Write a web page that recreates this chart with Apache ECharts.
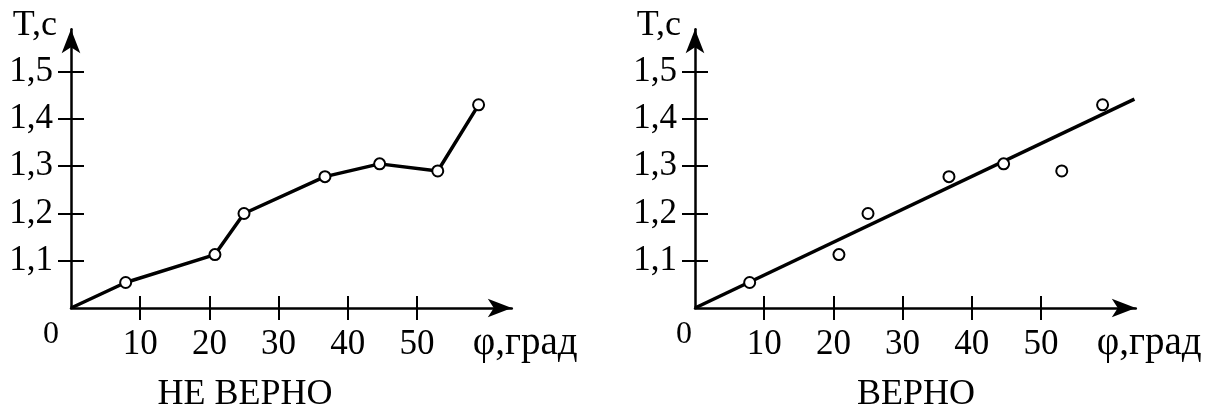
<!DOCTYPE html>
<html>
<head>
<meta charset="utf-8">
<script src="https://cdn.jsdelivr.net/npm/echarts@6/dist/echarts.min.js"></script>
<style>
	html, body {margin: 0; padding: 0; background: #fff;}
	#chart {width: 1206px; height: 410px;}
</style>
</head>
<body>
<div id="chart"></div>
<script>
	// измерения: угол (град) и период (с)
	const phi = [7.9, 20.8, 25.0, 36.7, 44.6, 53.0, 58.9];
	const period = [1.054, 1.113, 1.2, 1.278, 1.305, 1.29, 1.43];
	const start = [0, 1.0];
	// прямая для правого графика
	const fitLine = [[0, 1.0], [63.5, 1.442]];
	const xTicks = [10, 20, 30, 40, 50];
	const yTicks = [1.1, 1.2, 1.3, 1.4, 1.5];
	const titles = ['НЕ ВЕРНО', 'ВЕРНО'];

	const font = 'Liberation Serif';
	const points = phi.map((p, i) => [p, period[i]]);

	const grids = [
		{left: 71, top: 29.2, width: 440.8, height: 278.8},
		{left: 695, top: 29.2, width: 440.8, height: 278.8}
	];

	const makeX = (gi, main) => ({
		type: 'value',
		gridIndex: gi,
		position: 'bottom',
		min: 0,
		max: 63.7,
		axisLine: {
			show: main,
			onZero: false,
			symbol: ['none', 'arrow'],
			symbolSize: [14, 24],
			lineStyle: {color: '#000', width: 2.5}
		},
		axisTick: {
			show: true,
			inside: !main,
			length: 12,
			customValues: xTicks,
			lineStyle: {color: '#000', width: 2}
		},
		axisLabel: {
			show: main,
			customValues: xTicks,
			margin: 19,
			fontFamily: font, fontSize: 35, color: '#000'
		},
		splitLine: {show: false}
	});

	const makeY = (gi, main) => ({
		type: 'value',
		gridIndex: gi,
		position: 'left',
		min: 1.0,
		max: 1.59,
		name: main ? 'T,c' : '',
		nameLocation: 'end',
		nameGap: 4,
		nameTextStyle: {
			fontFamily: font, fontSize: 36, color: '#000',
			align: 'right', verticalAlign: 'middle', padding: [0, 14, 0, 0]
		},
		axisLine: {
			show: main,
			onZero: false,
			symbol: ['none', 'arrow'],
			symbolSize: [14, 24],
			lineStyle: {color: '#000', width: 2.5}
		},
		axisTick: {
			show: true,
			inside: !main,
			length: 13,
			customValues: yTicks,
			lineStyle: {color: '#000', width: 2}
		},
		axisLabel: {
			show: main,
			customValues: yTicks,
			margin: 18,
			fontFamily: font, fontSize: 35, color: '#000',
			formatter: v => v.toFixed(1).replace('.', ',')
		},
		splitLine: {show: false}
	});

	const marker = {color: '#fff', borderColor: '#000', borderWidth: 2, opacity: 1};

	const txt = (x, y, text, size, align) => ({
		type: 'text', x: x, y: y,
		style: {text: text, font: size + 'px "Liberation Serif"', fill: '#000', align: align, verticalAlign: 'middle'}
	});

	let option = {
		backgroundColor: '#fff',
		animation: false,
		grid: grids,
		xAxis: [makeX(0, true), makeX(0, false), makeX(1, true), makeX(1, false)],
		yAxis: [makeY(0, true), makeY(0, false), makeY(1, true), makeY(1, false)],
		series: [
			{
				type: 'line',
				xAxisIndex: 0,
				yAxisIndex: 0,
				data: [{value: start, symbol: 'none'}].concat(points),
				symbol: 'circle',
				symbolSize: 11,
				showAllSymbol: true,
				lineStyle: {color: '#000', width: 3.5},
				itemStyle: marker,
				z: 3
			},
			{
				type: 'line',
				xAxisIndex: 2,
				yAxisIndex: 2,
				data: fitLine,
				symbol: 'none',
				clip: false,
				lineStyle: {color: '#000', width: 3.5},
				z: 2
			},
			{
				type: 'scatter',
				xAxisIndex: 2,
				yAxisIndex: 2,
				data: points,
				symbol: 'circle',
				symbolSize: 11,
				itemStyle: marker,
				z: 4
			}
		],
		graphic: [
			txt(51, 335, '0', 32, 'center'),
			txt(684, 335, '0', 32, 'center'),
			txt(472.7, 344, 'φ,град', 39, 'left'),
			txt(1096.7, 344, 'φ,град', 39, 'left'),
			txt(245, 394.5, titles[0], 36, 'center'),
			txt(916, 394.5, titles[1], 36, 'center')
		]
	};

	let chart = echarts.init(document.getElementById('chart'));
	chart.setOption(option);
</script>
</body>
</html>
